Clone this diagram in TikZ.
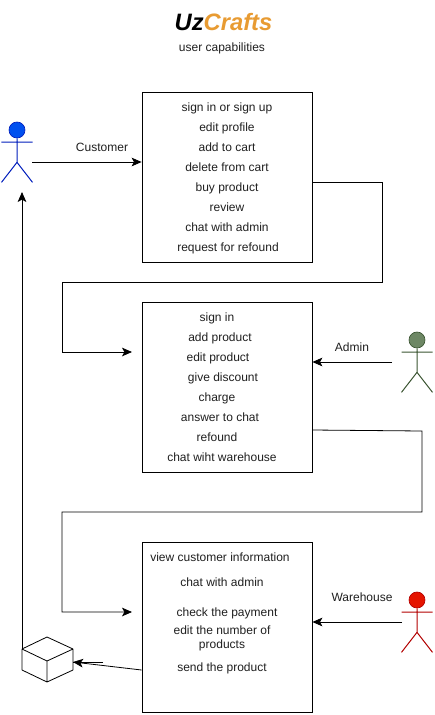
\documentclass[tikz,border=0pt]{standalone}
\usepackage{fontspec}
\setmainfont{Liberation Sans}
\usetikzlibrary{arrows.meta}
\definecolor{textgray}{HTML}{1F1F1F}
\definecolor{craftorange}{HTML}{E89B32}
\definecolor{custfill}{HTML}{0050EF}
\definecolor{custline}{HTML}{001DBC}
\definecolor{adminfill}{HTML}{6D8764}
\definecolor{adminline}{HTML}{3A5431}
\definecolor{housefill}{HTML}{E51400}
\definecolor{houseline}{HTML}{B20000}
\tikzset{
	capbox/.style={draw=black,line width=0.6pt,minimum width=127.5pt,minimum height=127.5pt,inner sep=0pt},
	flow/.style={draw=black,line width=0.6pt,-{Stealth[length=7.5pt,width=6.5pt,inset=1.8pt]}},
	plainline/.style={draw=black,line width=0.6pt},
	captext/.style={text height=6.6pt,text depth=1.9pt,yshift=-1.1pt},
	every node/.style={font=\fontsize{9}{11}\selectfont,text=textgray}
}
% head at #2, name #3, fill #4, line #5
\newcommand{\actorfig}[5][]{
	\node[circle,draw=#5,fill=#4,line width=0.5pt,minimum size=12pt,inner sep=0pt,#1] at (#2) (#3) {};
	\draw[draw=#5,line width=0.75pt] (#3.south) -- ++(0,24) -- ++(-15.5,20) ++(15.5,-20) -- ++(15.5,20)
		(#3.center) ++(-15.5,12) -- ++(31,0);
}
\newcommand{\capline}[3]{\node[captext] (#2) at (#1) {#3}}

\begin{document}
\begin{tikzpicture}[x=0.75pt,y=-0.75pt]
	\useasboundingbox (0,0) rectangle (435,715);
	% title
	\node[font=\fontsize{17.8}{22}\selectfont\bfseries\itshape] (title) at (223.5,22) {\textcolor{black}{Uz}\textcolor{craftorange}{Crafts}};
	\capline{222,47}{subtitle}{user capabilities};
	% boxes
	\node[capbox] (custbox) at (227,177) {};
	\node[capbox] (adminbox) at (227,387) {};
	\node[capbox] (housebox) at (227,627) {};
	% customer
	\capline{227,107}{c1}{sign in or sign up};
	\capline{227,127}{c2}{edit profile};
	\capline{227,147}{c3}{add to cart};
	\capline{227,167}{c4}{delete from cart};
	\capline{227,187}{c5}{buy product};
	\capline{227,207}{c6}{review};
	\capline{227,227}{c7}{chat with admin};
	\capline{228,247}{c8}{request for refound};
	% admin
	\capline{217,317}{a1}{sign in};
	\capline{220,337}{a2}{add product};
	\capline{218,357}{a3}{edit product};
	\capline{223,377}{a4}{give discount};
	\capline{217,397}{a5}{charge};
	\capline{220,417}{a6}{answer to chat};
	\capline{217,437}{a7}{refound};
	\capline{222,457}{a8}{chat wiht warehouse};
	% warehouse
	\capline{220,557}{h1}{view customer information};
	\capline{222,582}{h2}{chat with admin};
	\capline{227,612}{h3}{check the payment};
	\node[align=center] (h4) at (222,638.5) {edit the number of\\products};
	\capline{222,667}{h5}{send the product};
	% actors
	\actorfig{17,130}{customer}{custfill}{custline};
	\actorfig{417,340}{admin}{adminfill}{adminline};
	\actorfig{417,600}{warehouse}{housefill}{houseline};
	\capline{102,147}{custlabel}{Customer};
	\capline{352,347}{adminlabel}{Admin};
	\capline{362,597}{houselabel}{Warehouse};
	% cube
	\coordinate (cubetop) at (47,637);
	\coordinate (cuberight) at (73,649);
	\coordinate (cubemid) at (47,661);
	\coordinate (cubeleft) at (22,649);
	\coordinate (cubelow) at (22,670);
	\coordinate (cubebot) at (47,682);
	\coordinate (cubeside) at (73,670);
	\draw[plainline,line join=round] (cubetop) -- (cuberight) -- (cubeside) -- (cubebot) -- (cubelow) -- (cubeleft) -- cycle
		(cubeleft) -- (cubemid) -- (cuberight)
		(cubemid) -- (cubebot);
	% connectors
	\coordinate (custout) at (32,162);
	\coordinate (custin) at (22,192);
	\coordinate (adminout) at (392,362);
	\coordinate (houseout) at (402,622);
	\coordinate (adminend) at (132,352);
	\coordinate (houseend) at (132,612);
	\coordinate (cubehit) at (73,662);
	\coordinate (cubestub) at (103,662);
	\draw[flow] (custout) -- (custout -| custbox.west);
	\draw[flow] (adminout) -- (adminout -| adminbox.east);
	\draw[flow] (houseout) -- (houseout -| housebox.east);
	\draw[flow] (custbox.east |- 0,182) -- (382,182) -- (382,282) -- (62,282) -- (62,352) -- (adminend);
	\draw[flow] (adminbox.east |- 0,430) -- (422,431) -- (422,512) -- (62,512) -- (62,612) -- (houseend);
	\draw[flow] (housebox.west |- 0,670) -- (cubehit);
	\draw[plainline] (cubestub) -- (cubehit);
	\draw[flow] (cubeleft) -- (custin);
\end{tikzpicture}
\end{document}
